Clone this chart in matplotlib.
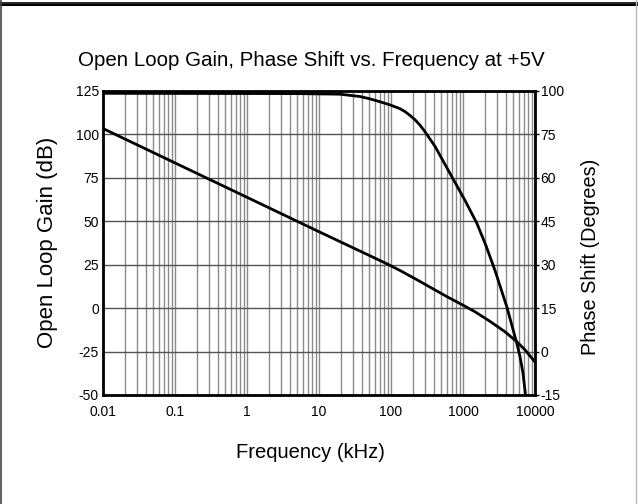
import matplotlib.pyplot as plt
from matplotlib.lines import Line2D
import numpy as np

plt.rcParams['font.family'] = ['Liberation Sans', 'DejaVu Sans']
plt.rcParams['axes.unicode_minus'] = False

# open loop gain (dB) vs frequency (kHz)
gain_freq = [0.01, 0.1, 1, 10, 88, 133, 215, 348, 600, 970, 1470, 2370, 3830, 5620, 7260, 10000]
gain_db = [103.4, 83.6, 63.8, 44.0, 25.5, 21.7, 17.0, 12.1, 6.6, 2.0, -2.1, -7.6, -13.6, -19.4, -24.0, -31.0]

# phase shift (degrees) vs frequency (kHz)
phase_freq = [0.01, 5, 19.5, 37, 51, 70, 97, 133, 156, 183, 215, 253, 297, 408, 703,
              1067, 1565, 2084, 2783, 4080, 5623, 6190, 6813, 7377]
phase_deg = [89.2, 89.1, 88.9, 88.1, 87.3, 86.3, 85.2, 83.9, 82.9, 81.6, 80.1, 78.2, 75.9, 70.9, 60.3,
             52.2, 44.2, 36.6, 28.0, 15.3, 2.6, -1.8, -7.4, -15]

x_ticks = [0.01, 0.1, 1, 10, 100, 1000, 10000]
x_labels = ['0.01', '0.1', '1', '10', '100', '1000', '10000']
gain_ticks = [-50, -25, 0, 25, 50, 75, 100, 125]
phase_ticks = [-15, 0, 15, 30, 45, 60, 75, 90]
phase_labels = ['-15', '0', '15', '30', '45', '60', '75', '100']

fig = plt.figure(figsize=(6.38, 5.04), dpi=100)
ax = fig.add_axes([103/638, 1-395/504, 432/638, 304/504])

ax.set_xscale('log')
ax.set_xlim(0.01, 10000)
ax.set_ylim(-50, 125)
ax.set_xticks(x_ticks)
ax.set_xticklabels(x_labels)
ax.set_yticks(gain_ticks)
ax.grid(True, which='both', axis='x', color='#8a8a8a', linewidth=1.0)
ax.grid(True, which='major', axis='y', color='#555555', linewidth=1.0)
ax.tick_params(axis='both', which='both', length=0, labelsize=10)
ax.tick_params(axis='y', pad=3)
ax.tick_params(axis='x', pad=7)
for s in ax.spines.values():
    s.set_linewidth(2)

ax.plot(gain_freq, gain_db, color='black', linewidth=2)

ax2 = ax.twinx()
ax2.set_ylim(-15, 90)
ax2.set_yticks(phase_ticks)
ax2.set_yticklabels(phase_labels)
ax2.tick_params(axis='y', length=3, width=1, labelsize=10, pad=1)
ax2.plot(phase_freq, phase_deg, color='black', linewidth=2, clip_on=True)

fig.text(48/638, 1-242/504, 'Open Loop Gain (dB)', rotation=90,
         ha='center', va='center', fontsize=16)
fig.text(590/638, 1-257/504, 'Phase Shift (Degrees)', rotation=90,
         ha='center', va='center', fontsize=14.3)
fig.text(310/638, 1-452/504, 'Frequency (kHz)', ha='center', va='center', fontsize=14.5)
fig.text(311/638, 1-60/504, 'Open Loop Gain, Phase Shift vs. Frequency at +5V',
         ha='center', va='center', fontsize=14.8)

# page border of the original scan
fig.add_artist(Line2D([0, 1], [1-2.5/504, 1-2.5/504], color='black', linewidth=1.2))
fig.add_artist(Line2D([0, 1], [1-5/504, 1-5/504], color='black', linewidth=1.5))
fig.add_artist(Line2D([0.5/638, 0.5/638], [0, 1], color='#444444', linewidth=1.2))
fig.add_artist(Line2D([636/638, 636/638], [0, 1], color='#bbbbbb', linewidth=1.0))

fig.savefig('out.png', dpi=100)
